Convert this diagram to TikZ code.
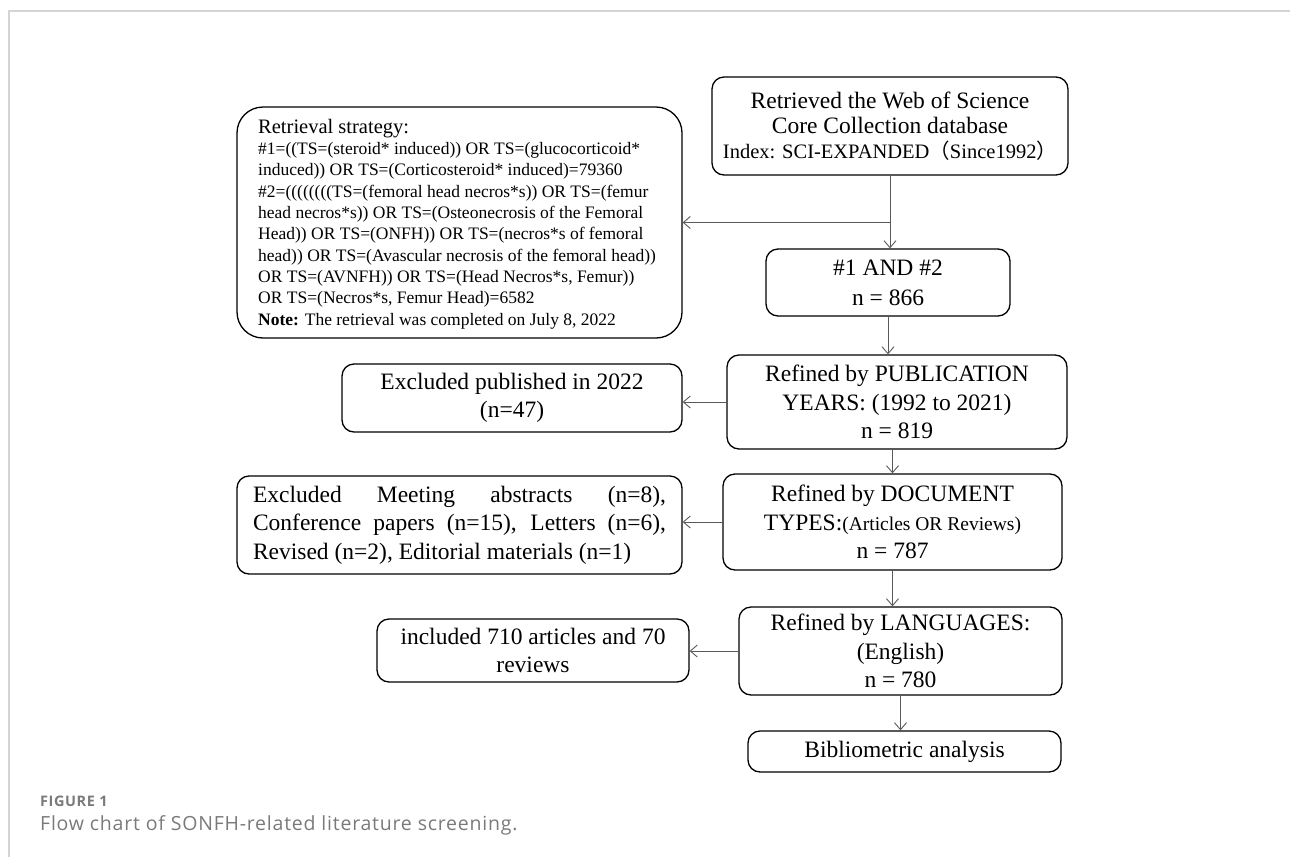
\documentclass[tikz,border=0pt]{standalone}
\usepackage{fontspec}
\setmainfont{Liberation Serif}
\newfontfamily\capfont[LetterSpace=4]{Open Sans}
\newfontfamily\cjkfont{Noto Sans CJK SC}
\usetikzlibrary{arrows.meta}
\definecolor{framegray}{HTML}{D4D4D4}
\definecolor{arrgray}{HTML}{5A5A5A}
\definecolor{capgray}{HTML}{7A7A7A}
\begin{document}
\begin{tikzpicture}[x=1pt,y=-1pt,
  box/.style={draw=black, line width=1.3pt, rounded corners=12pt, inner sep=0pt,
    align=center, font=\fontsize{23.5}{28.5}\selectfont},
  arr/.style={draw=arrgray, line width=0.9pt, -{Straight Barb[length=7pt,width=12pt]}},
  capline/.style={anchor=base west, inner sep=0pt, text=capgray}]
\useasboundingbox (0,0) rectangle (1290,857);
\draw[framegray, line width=2pt] (9,857) -- (9,11) -- (1290,11);

% strategy box
\node[box, rounded corners=26pt, minimum width=445pt, minimum height=231pt] (strat) at (459.5,222.5) {};
\node[anchor=west, inner sep=0pt, align=left, font=\fontsize{17.5}{21.3}\selectfont] (strattxt) at (258,224)
  {{\fontsize{20.5}{21.3}\selectfont Retrieval strategy:}\\
   \#1=((TS=(steroid* induced)) OR TS=(glucocorticoid*\\
   induced)) OR TS=(Corticosteroid* induced)=79360\\
   \#2=((((((((TS=(femoral head necros*s)) OR TS=(femur\\
   head necros*s)) OR TS=(Osteonecrosis of the Femoral\\
   Head)) OR TS=(ONFH)) OR TS=(necros*s of femoral\\
   head)) OR TS=(Avascular necrosis of the femoral head))\\
   OR TS=(AVNFH)) OR TS=(Head Necros*s, Femur))\\
   OR TS=(Necros*s, Femur Head)=6582\\
   \textbf{Note:} The retrieval was completed on July 8, 2022};

\node[box, minimum width=356pt, minimum height=98pt, font=\fontsize{23.5}{25}\selectfont] (ret) at (890,126)
  {Retrieved the Web of Science\\ Core Collection database\\
   {\fontsize{20.5}{25}\selectfont Index: SCI-EXPANDED{\cjkfont（}Since1992{\cjkfont）}}};
\node[box, minimum width=244pt, minimum height=67pt, font=\fontsize{23.5}{30}\selectfont] (and) at (888,282.5)
  {\#1 AND \#2\\ n = 866};
\node[box, minimum width=340pt, minimum height=94pt] (pub) at (897,402)
  {Refined by PUBLICATION\\ YEARS: (1992 to 2021)\\ n = 819};
\node[box, minimum width=340pt, minimum height=68pt] (ex1) at (512,398)
  {Excluded published in 2022\\ (n=47)};
\node[box, minimum width=339pt, minimum height=96pt] (doc) at (892.5,522)
  {Refined by DOCUMENT\\ TYPES:{\fontsize{19.5}{28.5}\selectfont(Articles OR Reviews)}\\ n = 787};
\node[box, align=justify, text width=413pt, inner xsep=16pt, minimum height=98pt] (ex2) at (459.5,525)
  {Excluded Meeting abstracts (n=8),\linebreak
   Conference papers (n=15), Letters (n=6),\linebreak
   Revised (n=2), Editorial materials (n=1)};
\node[box, minimum width=323pt, minimum height=88pt] (lang) at (900.5,651)
  {Refined by LANGUAGES:\\ (English)\\ n = 780};
\node[box, minimum width=312pt, minimum height=63pt] (inc) at (533,650.5)
  {included 710 articles and 70\\ reviews};
\node[box, minimum width=313pt, minimum height=41pt] (bib) at (904.5,751.5)
  {Bibliometric analysis};

% connectors
\draw[arr] (ret.south) -- (ret.south |- and.north);
\draw[arr] (ret.south |- strat.east) -- (strat.east);
\draw[arr] (and.south) -- (and.south |- pub.north);
\draw[arr] (pub.west) -- (pub.west -| ex1.east);
\draw[arr] (doc.north |- pub.south) -- (doc.north);
\draw[arr] (doc.west) -- (doc.west -| ex2.east);
\draw[arr] (doc.south) -- (doc.south |- lang.north);
\draw[arr] (lang.west) -- (lang.west -| inc.east);
\draw[arr] (lang.south) -- (lang.south |- bib.north);

% caption
\node[capline, font=\capfont\bfseries\fontsize{14.5}{16}\selectfont] (figlab) at (40,806) {FIGURE 1};
\node[capline, font=\capfont\fontsize{19.5}{22}\selectfont] (figcap) at (40,830)
  {Flow chart of SONFH-related literature screening.};
\end{tikzpicture}
\end{document}
